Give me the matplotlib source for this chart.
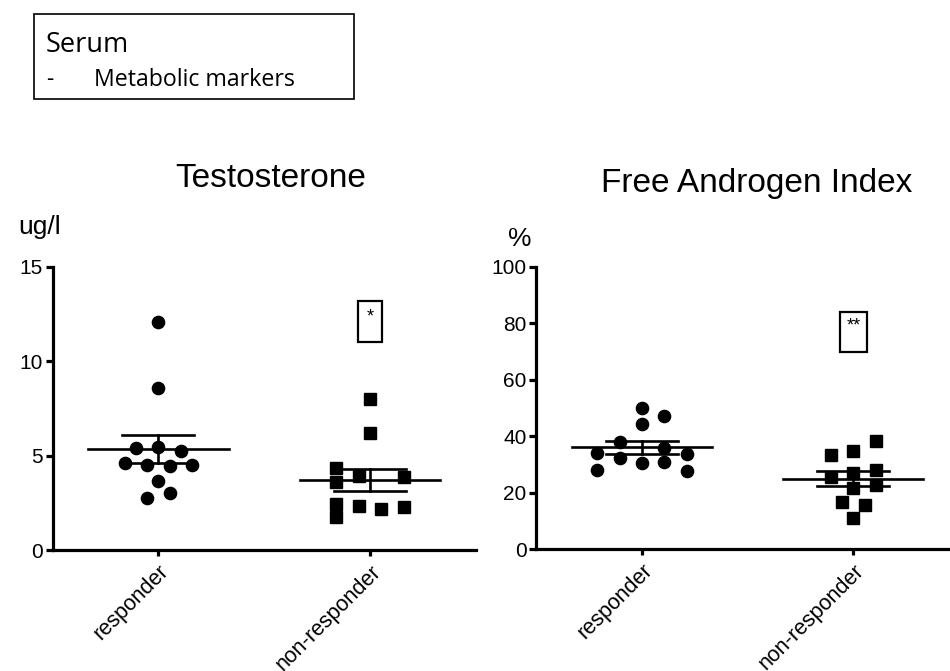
import numpy as np
import matplotlib
matplotlib.use("Agg")
import matplotlib.pyplot as plt
from matplotlib.patches import Rectangle

plt.rcParams['font.family'] = ['Liberation Sans', 'DejaVu Sans']

groups = ['responder', 'non-responder']

# Testosterone (ug/l)
testo_resp = [12.1, 8.57, 5.39, 5.44, 5.26, 4.63, 4.50, 4.45, 4.50, 3.67, 3.04, 2.74]
testo_nonresp = [7.99, 6.18, 4.36, 3.94, 3.62, 3.89, 2.44, 2.33, 2.16, 2.30, 1.77]

# Free Androgen Index (%)
fai_resp = [49.9, 47.2, 44.3, 37.8, 33.9, 35.7, 33.7, 32.4, 30.6, 30.7, 28.0, 27.8]
fai_nonresp = [38.3, 33.3, 34.8, 28.0, 25.6, 27.1, 22.7, 21.5, 16.6, 15.6, 10.9]

# scatter column slots (layout only)
slots_testo_resp = [0, 0, -2, 0, 2, -3, -1, 1, 3, 0, 1, -1]
slots_testo_nonresp = [0, 0, -3, -1, -3, 3, -3, -1, 1, 3, -3]
slots_fai_resp = [0, 2, 0, -2, -4, 2, 4, -2, 0, 2, -4, 4]
slots_fai_nonresp = [2, -2, 0, 2, -2, 0, 2, 0, -1, 1, 0]

SLOT = 0.053


def draw_group(ax, xc, vals, slots, marker, ms):
    vals = np.array(vals)
    xs = xc + np.array(slots) * SLOT
    ax.plot(xs, vals, linestyle='none', marker=marker, color='black',
            markersize=ms, zorder=3)
    m = vals.mean()
    sem = vals.std(ddof=1) / np.sqrt(len(vals))
    lw = 1.9
    ax.plot([xc - 0.332, xc + 0.332], [m, m], color='black', lw=lw, zorder=4)
    ax.plot([xc, xc], [m - sem, m + sem], color='black', lw=lw, zorder=4)
    for v in (m - sem, m + sem):
        ax.plot([xc - 0.17, xc + 0.17], [v, v], color='black', lw=lw, zorder=4)


def style(ax, ymax, yticks):
    ax.set_xlim(-0.5, 1.5)
    ax.set_ylim(0, ymax)
    ax.set_yticks(yticks)
    ax.set_xticks([0, 1])
    ax.set_xticklabels(groups, rotation=45, ha='right', rotation_mode='anchor',
                       fontsize=15.5)
    for s in ['top', 'right']:
        ax.spines[s].set_visible(False)
    for s in ['left', 'bottom']:
        ax.spines[s].set_linewidth(2.3)
    ax.spines['left'].set_capstyle('projecting')
    ax.tick_params(axis='y', width=2.3, length=5, labelsize=15, pad=2)
    ax.tick_params(axis='x', width=2.3, length=4, pad=4)


fig = plt.figure(figsize=(9.5, 6.71), dpi=100)

ax1 = fig.add_axes([0.0553, 0.1803, 0.4458, 0.4218])
draw_group(ax1, 0, testo_resp, slots_testo_resp, 'o', 8.8)
draw_group(ax1, 1, testo_nonresp, slots_testo_nonresp, 's', 8.0)
style(ax1, 15, [0, 5, 10, 15])
ax1.add_patch(Rectangle((1 - 0.057, 11.0), 0.114, 2.2, fill=False, lw=1.6,
                        ec='black', zorder=5))
ax1.text(1, 12.35, '*', ha='center', va='center', fontsize=13)
ax1.text(0.515, 1.283, 'Testosterone', transform=ax1.transAxes,
         ha='center', va='baseline', fontsize=24)
ax1.text(-0.0815, 1.117, 'ug/l', transform=ax1.transAxes,
         ha='left', va='baseline', fontsize=19)

ax2 = fig.add_axes([0.5647, 0.1818, 0.4447, 0.4203])
draw_group(ax2, 0, fai_resp, slots_fai_resp, 'o', 8.8)
draw_group(ax2, 1, fai_nonresp, slots_fai_nonresp, 's', 8.0)
style(ax2, 100, [0, 20, 40, 60, 80, 100])
ax2.add_patch(Rectangle((1 - 0.064, 70.0), 0.128, 14.2, fill=False, lw=1.6,
                        ec='black', zorder=5))
ax2.text(1, 79.0, '**', ha='center', va='center', fontsize=13)
ax2.text(0.522, 1.266, 'Free Androgen Index', transform=ax2.transAxes,
         ha='center', va='baseline', fontsize=24)
ax2.text(-0.0675, 1.074, '%', transform=ax2.transAxes,
         ha='left', va='baseline', fontsize=19)

# header box
fig.patches.append(Rectangle((33.5 / 950, 1 - 99.3 / 671), 320.5 / 950, 85 / 671,
                             transform=fig.transFigure, fill=False, lw=1.2,
                             ec='black'))
fig.text(46 / 950, 1 - 52 / 671, 'Serum', fontsize=19.5, family=['Open Sans'],
         va='baseline', ha='left')
fig.text(46 / 950, 1 - 86 / 671, '-', fontsize=16.5, family=['Open Sans'],
         va='baseline', ha='left')
fig.text(94 / 950, 1 - 86 / 671, 'Metabolic markers', fontsize=16.7,
         family=['Open Sans'], va='baseline', ha='left')

fig.savefig('out.png', dpi=100)
